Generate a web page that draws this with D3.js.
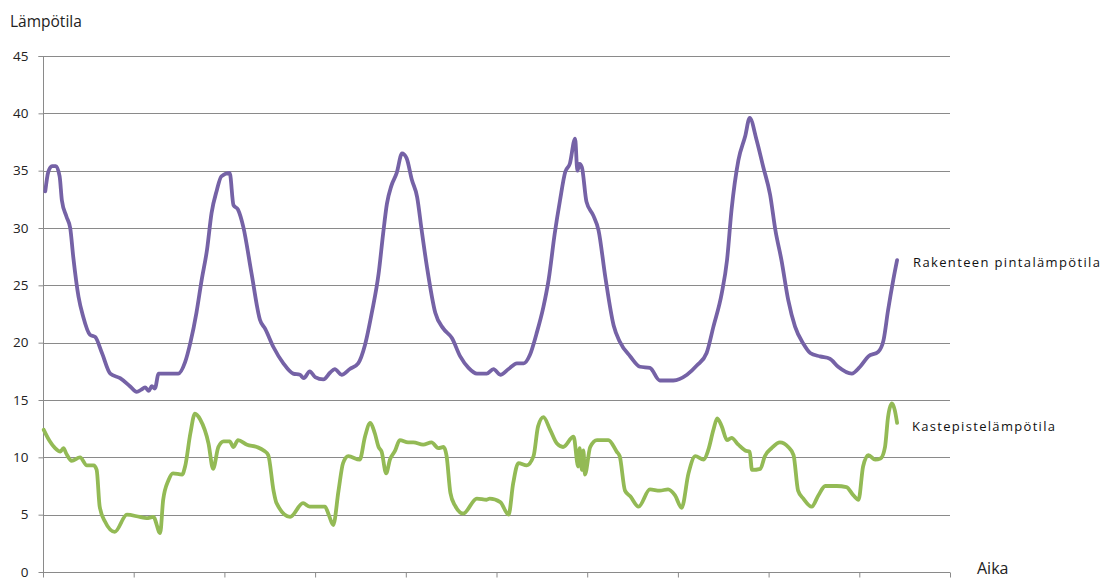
<!DOCTYPE html>
<html>
<head>
<meta charset="utf-8">
<script src="https://cdn.jsdelivr.net/npm/d3@7"></script>
<style>
  html, body { margin: 0; padding: 0; background: #fff; }
  svg { display: block; }
</style>
</head>
<body>
<svg id="chart" width="1102" height="586"></svg>
<script>
// ---- Data (time in hours, temperature in °C) ----
const yTicks = [0, 5, 10, 15, 20, 25, 30, 35, 40, 45];
const xTicks = [0, 12, 24, 36, 48, 60, 72, 84, 96, 108, 120];
const seriesNames = ["Rakenteen pintalämpötila", "Kastepistelämpötila"];
const axisTitles = ["Lämpötila", "Aika"];

const surfaceTime = [0.3,0.7,1.2,1.7,2.2,2.5,3.1,3.6,4.0,4.7,5.3,6.2,6.9,7.8,8.9,10.2,11.5,12.4,13.0,13.5,14.0,14.4,14.8,15.3,17.9,18.8,19.5,20.3,21.0,21.7,22.3,23.0,23.6,24.7,25.2,25.8,26.5,27.6,28.7,29.4,30.5,31.8,33.1,34.0,34.5,35.3,36.0,37.1,38.0,38.6,39.5,40.6,41.7,42.6,43.5,44.4,45.0,45.5,46.1,46.8,47.5,48.1,48.8,49.5,50.1,50.8,51.9,53.0,54.1,55.2,56.3,57.4,58.7,59.6,60.5,61.6,62.7,63.6,64.4,65.3,66.2,66.9,67.7,68.4,69.1,69.7,70.4,70.7,71.0,71.3,71.9,72.8,73.5,74.4,75.5,76.3,77.7,79.0,80.3,81.6,83.4,85.2,86.5,87.8,88.7,89.8,90.5,91.1,92.0,92.9,93.5,94.4,95.3,96.2,96.9,97.7,98.6,99.5,100.6,101.5,102.8,104.1,105.2,107.0,108.1,109.2,110.5,111.2,111.8,112.5,113.0];
const surfaceTemp = [33.2,34.9,35.4,35.4,34.5,32.4,31.0,30.0,27.5,24.0,22.3,20.7,20.5,19.1,17.3,16.9,16.2,15.7,15.9,16.1,15.8,16.2,16.0,17.3,17.3,18.3,20.0,22.6,25.5,28.1,31.3,33.3,34.5,34.8,32.0,31.6,30.1,26.0,22.0,21.2,19.6,18.2,17.3,17.2,16.9,17.5,17.0,16.8,17.4,17.7,17.2,17.7,18.2,19.8,22.6,26.0,29.5,32.1,33.7,34.8,36.5,36.1,34.2,32.7,29.8,26.6,22.6,21.2,20.4,18.8,17.8,17.3,17.3,17.7,17.2,17.7,18.2,18.2,18.9,20.8,23.1,25.5,29.5,32.4,34.9,35.6,37.8,35.0,35.6,35.3,32.3,31.1,29.8,25.7,21.5,20.1,18.8,17.9,17.8,16.7,16.7,17.2,18.0,19.1,21.4,24.3,27.2,31.6,35.9,38.0,39.6,37.7,35.3,32.9,29.8,27.2,23.7,21.4,19.9,19.1,18.8,18.6,17.9,17.3,17.9,18.8,19.2,20.2,22.8,25.5,27.2];

const dewTime = [0.1,0.9,1.6,2.3,2.7,3.1,3.8,4.9,5.8,6.7,7.1,7.5,8.2,9.5,11.1,12.8,13.7,14.6,15.5,15.9,16.6,17.2,18.4,18.8,19.5,20.1,20.8,21.9,22.5,23.2,23.9,24.7,25.2,25.8,27.0,28.3,29.2,29.8,30.5,30.9,32.7,34.4,35.3,37.3,37.8,38.4,39.1,39.7,40.4,41.9,42.6,43.3,43.9,44.4,44.8,45.4,45.9,46.6,47.2,48.3,49.0,50.3,51.4,52.3,53.0,53.4,53.9,54.5,55.6,57.4,58.7,59.1,60.5,61.6,62.2,62.9,64.0,64.9,65.5,66.2,67.1,68.0,68.8,70.2,70.8,71.0,71.3,71.5,71.7,72.4,73.3,74.8,75.9,76.3,77.0,77.7,78.8,80.3,81.6,82.7,83.6,84.5,85.4,86.3,87.4,88.0,88.7,89.2,89.8,90.5,91.1,92.0,92.9,93.5,93.8,94.9,95.5,96.4,97.5,98.6,99.3,99.9,100.6,101.7,102.6,103.5,105.0,106.3,107.2,107.9,108.5,109.2,110.1,110.8,111.4,111.8,112.3,112.7,113.0];
const dewTemp = [12.4,11.4,10.8,10.5,10.8,10.3,9.7,10.0,9.3,9.3,8.9,5.7,4.4,3.5,5.0,4.8,4.7,4.8,3.4,6.3,8.0,8.6,8.5,9.2,12.1,13.8,13.3,11.2,9.0,10.9,11.4,11.4,10.9,11.5,11.1,10.9,10.6,10.2,7.1,6.0,4.8,6.0,5.7,5.7,5.0,4.1,7.1,9.5,10.1,9.8,11.8,13.0,12.1,10.9,10.5,8.6,9.8,10.6,11.5,11.3,11.3,11.1,11.3,10.8,10.9,10.1,6.9,5.8,5.1,6.4,6.3,6.4,6.1,5.0,7.7,9.5,9.3,10.1,12.7,13.5,12.4,11.2,10.9,11.8,9.2,10.8,8.9,10.6,8.5,10.9,11.5,11.5,10.5,10.1,7.1,6.6,5.7,7.2,7.1,7.2,6.7,5.6,8.6,10.1,9.8,10.6,12.4,13.4,12.7,11.5,11.7,11.1,10.6,10.5,8.9,9.0,10.1,10.8,11.3,10.9,10.2,7.1,6.4,5.7,6.7,7.5,7.5,7.4,6.7,6.3,9.2,10.2,9.8,9.9,10.9,13.5,14.7,14.1,13.0];

const colors = ["#7562a6", "#93ba55"];

// ---- Layout ----
const svg = d3.select("#chart");
const x = d3.scaleLinear().domain([0, 120]).range([43, 950]);
const y = d3.scaleLinear().domain([0, 45]).range([572, 56]);
const gridColor = "#8a8a8a";
const font = "'Open Sans', 'Noto Sans', sans-serif";

// gridlines
svg.append("g").selectAll("line")
  .data(yTicks.filter(d => d > 0))
  .join("line")
  .attr("x1", x(0)).attr("x2", x(120))
  .attr("y1", d => Math.round(y(d)) + 0.5).attr("y2", d => Math.round(y(d)) + 0.5)
  .attr("stroke", gridColor).attr("stroke-width", 1);

// y axis
const yAxis = svg.append("g")
  .attr("transform", `translate(${Math.round(x(0)) + 0.5},0)`)
  .call(d3.axisLeft(y).tickValues(yTicks).tickSize(5).tickPadding(10).tickFormat(d3.format("d")));
yAxis.select(".domain").attr("stroke", gridColor).attr("d", `M-5,${Math.round(y(45))+0.5}H0V${Math.round(y(0))+0.5}`);
yAxis.selectAll(".tick line").attr("stroke", gridColor);
yAxis.selectAll(".tick text").attr("fill", "#222").style("font-family", font).style("font-size", "13.5px");

// x axis
const xAxis = svg.append("g")
  .attr("transform", `translate(0,${Math.round(y(0)) + 0.5})`)
  .call(d3.axisBottom(x).tickValues(xTicks).tickSize(5).tickFormat(""));
xAxis.select(".domain").attr("stroke", gridColor).attr("d", `M${x(0)},0H${x(120)}`);
xAxis.selectAll(".tick line").attr("stroke", gridColor);

// lines
const line = d3.line()
  .x(d => x(d[0]))
  .y(d => y(d[1]))
  .curve(d3.curveMonotoneX);

const surface = d3.zip(surfaceTime, surfaceTemp);
const dew = d3.zip(dewTime, dewTemp);

[surface, dew].forEach((s, i) => {
  svg.append("path")
    .datum(s)
    .attr("d", line)
    .attr("fill", "none")
    .attr("stroke", colors[i])
    .attr("stroke-width", 3.8)
    .attr("stroke-linejoin", "round")
    .attr("stroke-linecap", "round");
});

// series labels
svg.append("text")
  .attr("x", 913).attr("y", 267)
  .attr("fill", "#111")
  .style("font-family", font).style("font-size", "13px")
  .attr("textLength", 187)
  .text(seriesNames[0]);
svg.append("text")
  .attr("x", 912).attr("y", 431)
  .attr("fill", "#111")
  .style("font-family", font).style("font-size", "13px")
  .attr("textLength", 143)
  .text(seriesNames[1]);

// axis titles
svg.append("text")
  .attr("x", 10).attr("y", 27)
  .attr("fill", "#222")
  .style("font-family", font).style("font-size", "15.5px")
  .text(axisTitles[0]);
svg.append("text")
  .attr("x", 977).attr("y", 574)
  .attr("fill", "#222")
  .style("font-family", font).style("font-size", "16px")
  .text(axisTitles[1]);
</script>
</body>
</html>
